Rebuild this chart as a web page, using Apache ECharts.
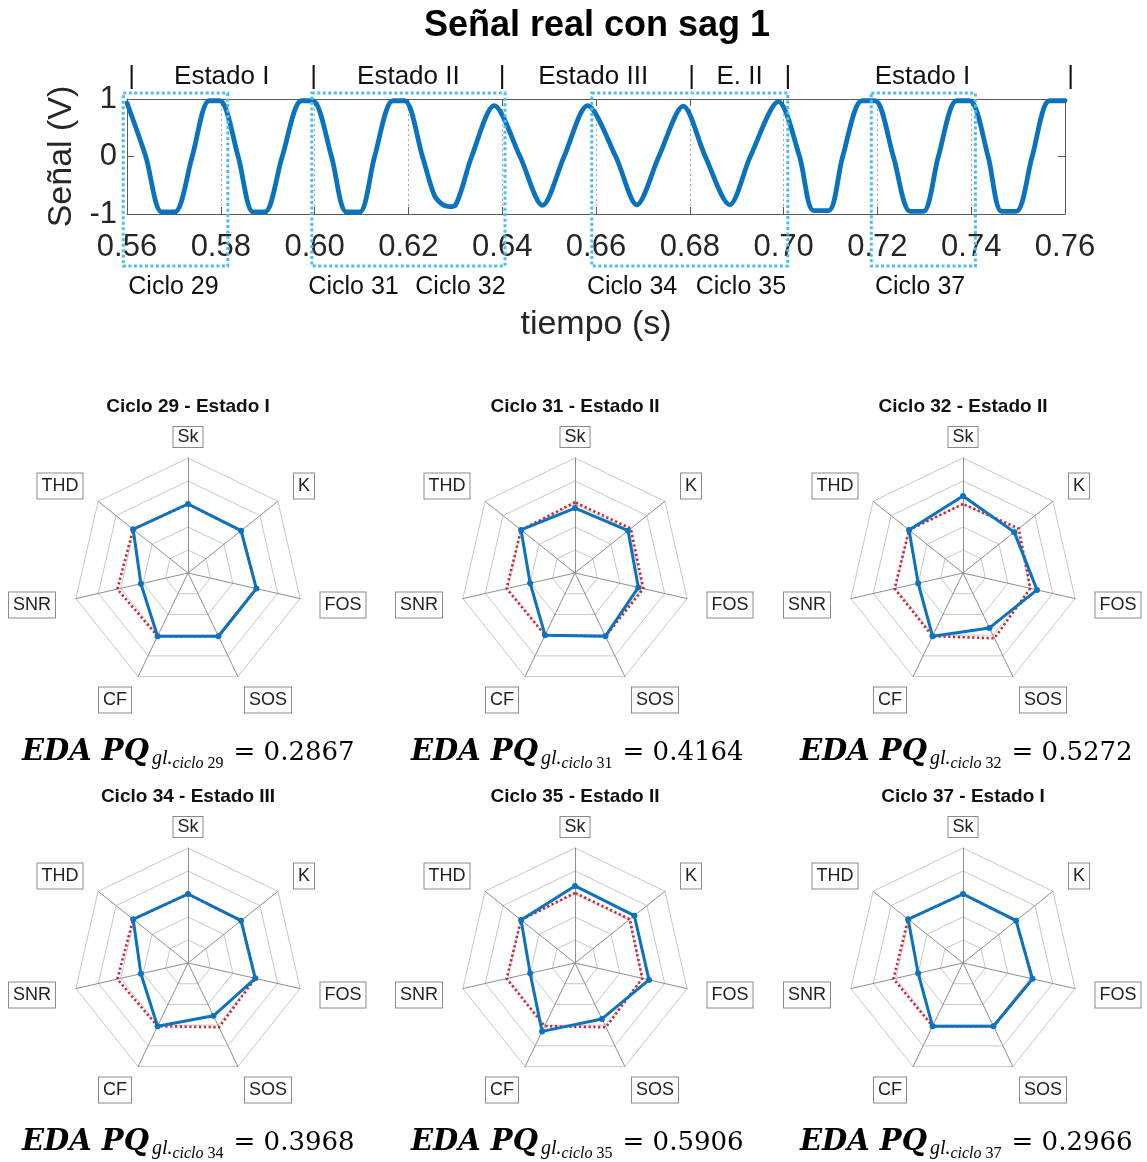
<!DOCTYPE html>
<html><head><meta charset="utf-8">
<script src="https://cdn.jsdelivr.net/npm/echarts@6/dist/echarts.min.js"></script>
<style>html,body{margin:0;padding:0;background:#fff}#c{width:1147px;height:1162px}</style>
</head><body><div id="c"></div>
<script>
// ---------- top chart data ----------
const sigT = [0.5600,0.5640,0.5674,0.5702,0.5739,0.5775,0.5798,0.5837,0.5869,0.5894,0.5931,0.5972,0.5996,0.6036,0.6068,0.6096,0.6128,0.6167,0.6192,0.6230,0.6255,0.6272,0.6287,0.6300,0.6335,0.6383,0.6438,0.6486,0.6532,0.6582,0.6642,0.6687,0.6734,0.6786,0.6833,0.6885,0.6929,0.6989,0.7034,0.7064,0.7096,0.7126,0.7167,0.7195,0.7234,0.7270,0.7298,0.7330,0.7369,0.7397,0.7436,0.7465,0.7496,0.7530,0.7567,0.7600];
const sigV = [0.93,0.00,-0.965,-0.965,0.00,0.97,0.97,0.00,-0.965,-0.965,0.00,0.97,0.97,0.00,-0.965,-0.965,0.00,0.97,0.97,0.00,-0.67,-0.83,-0.87,-0.85,0.00,0.885,0.00,-0.85,0.00,0.885,0.00,-0.84,0.00,0.875,0.00,-0.84,0.00,0.955,0.00,-0.94,-0.94,0.00,0.97,0.97,0.00,-0.955,-0.955,0.00,0.97,0.97,0.00,-0.955,-0.955,0.00,0.97,0.97];
const yTicks = [-1, 0, 1];
const stateSepT = [0.5610, 0.5998, 0.6400, 0.6804, 0.7009, 0.7612];
const stateLabels = ['Estado I', 'Estado II', 'Estado III', 'E. II', 'Estado I'];
const stateLabelT = [0.5802, 0.6200, 0.6594, 0.6906, 0.7296];
const cycleLabels = ['Ciclo 29', 'Ciclo 31', 'Ciclo 32', 'Ciclo 34', 'Ciclo 35', 'Ciclo 37'];
const cycleLabelT = [0.5699, 0.6083, 0.6311, 0.6677, 0.6909, 0.7291];
const boxStartT = [0.5592, 0.5994, 0.6591, 0.7187];
const boxEndT = [0.5815, 0.6406, 0.7009, 0.7409];

// ---------- radar data (clockwise from top) ----------
const axisNames = ['Sk', 'K', 'FOS', 'SOS', 'CF', 'SNR', 'THD'];
const cycleNums = ['29', '31', '32', '34', '35', '37'];
const cycleStates = ['Estado I', 'Estado II', 'Estado II', 'Estado III', 'Estado II', 'Estado I'];
const edaValues = ['0.2867', '0.4164', '0.5272', '0.3968', '0.5906', '0.2966'];
const blueC29 = [0.60, 0.59, 0.61, 0.61, 0.61, 0.42, 0.61];
const redC29  = [0.60, 0.59, 0.61, 0.61, 0.61, 0.63, 0.61];
const blueC31 = [0.565, 0.59, 0.565, 0.61, 0.60, 0.40, 0.60];
const redC31  = [0.615, 0.62, 0.61, 0.61, 0.60, 0.61, 0.60];
const blueC32 = [0.67, 0.57, 0.66, 0.53, 0.61, 0.40, 0.60];
const redC32  = [0.60, 0.62, 0.60, 0.63, 0.61, 0.61, 0.60];
const blueC34 = [0.60, 0.59, 0.60, 0.51, 0.61, 0.42, 0.61];
const redC34  = [0.60, 0.59, 0.60, 0.62, 0.61, 0.63, 0.61];
const blueC35 = [0.67, 0.66, 0.66, 0.54, 0.66, 0.40, 0.60];
const redC35  = [0.61, 0.61, 0.60, 0.62, 0.61, 0.61, 0.60];
const blueC37 = [0.60, 0.59, 0.62, 0.61, 0.61, 0.40, 0.61];
const redC37  = [0.60, 0.59, 0.62, 0.61, 0.61, 0.62, 0.61];

const blueSets = [blueC29, blueC31, blueC32, blueC34, blueC35, blueC37];
const redSets = [redC29, redC31, redC32, redC34, redC35, redC37];

// ---------- layout ----------
const SANS = '"Liberation Sans", Arial, Helvetica, sans-serif';
const TXT = '#262626';
const BLUE = '#0B72BE';
const RED = '#CC2233';
const LBLUE = '#4DBEEE';
const colX = [188, 575, 963];
const rowY = [573, 963];
const titleY = [407, 797];
const formulaX = [22, 411, 800];
const formulaBase = [761, 1151];
// axis-name box placement relative to each radar centre (same order as axisNames)
const nameDX = [0, 116, 155, 80, -73, -156, -128];
const nameDY = [-136, -87, 32, 127, 127, 32, -87];

// ECharts lays radar indicators counter-clockwise, so reorder
const ccw = [0, 6, 5, 4, 3, 2, 1];
const reorder = a => ccw.map(i => a[i]);

const chart = echarts.init(document.getElementById('c'), null, {renderer: 'canvas'});

const radars = [];
const series = [{
  type: 'line', xAxisIndex: 0, yAxisIndex: 0,
  data: sigT.map((t, i) => [t, sigV[i]]),
  showSymbol: false, smooth: 0.3,
  lineStyle: {color: BLUE, width: 4.8, cap: 'round', join: 'round'},
  itemStyle: {color: BLUE}, silent: true
}];

for (let i = 0; i < 6; i++) {
  const col = i % 3, row = Math.floor(i / 3);
  radars.push({
    center: [colX[col], rowY[row]], radius: 115, startAngle: 90,
    splitNumber: 5, shape: 'polygon',
    indicator: reorder(axisNames).map(n => ({name: n, min: 0, max: 1})),
    axisName: {show: false},
    axisLine: {lineStyle: {color: '#8f8f8f', width: 1}},
    splitLine: {lineStyle: {color: '#c8c8c8', width: 1}},
    splitArea: {show: false},
    axisTick: {show: false}, axisLabel: {show: false}
  });
  series.push({
    type: 'radar', radarIndex: i, silent: true, symbol: 'none', z: 2,
    lineStyle: {color: RED, width: 2.6, type: [2.2, 2.6]},
    data: [{value: reorder(redSets[i])}]
  });
  series.push({
    type: 'radar', radarIndex: i, silent: true, symbol: 'circle', symbolSize: 6, z: 3,
    lineStyle: {color: BLUE, width: 3},
    itemStyle: {color: BLUE},
    data: [{value: reorder(blueSets[i])}]
  });
}

const axisCol = '#5a5a5a';
chart.setOption({
  animation: false,
  backgroundColor: '#fff',
  grid: {left: 127, right: 82, top: 99, height: 115, containLabel: false},
  xAxis: [{
    type: 'value', min: 0.56, max: 0.76, interval: 0.02, position: 'bottom',
    name: 'tiempo (s)', nameLocation: 'middle', nameGap: 94,
    nameTextStyle: {fontSize: 34, color: TXT, fontFamily: SANS},
    axisLine: {show: true, onZero: false, lineStyle: {color: axisCol, width: 1}},
    axisTick: {show: true, inside: true, length: 7, lineStyle: {color: axisCol}},
    axisLabel: {fontSize: 31, color: TXT, fontFamily: SANS, margin: 18, showMinLabel: true, showMaxLabel: true,
                formatter: v => v.toFixed(2)},
    splitLine: {show: true, lineStyle: {color: '#a8a8a8', width: 1, type: [2, 3]}}
  }, {
    type: 'value', min: 0.56, max: 0.76, interval: 0.02, position: 'top',
    axisLine: {show: true, onZero: false, lineStyle: {color: axisCol, width: 1}},
    axisTick: {show: true, inside: true, length: 7, lineStyle: {color: axisCol}},
    axisLabel: {show: false}, splitLine: {show: false}
  }],
  yAxis: [{
    type: 'value', min: yTicks[0], max: yTicks[yTicks.length - 1], interval: 1, position: 'left',
    name: 'Señal (V)', nameLocation: 'middle', nameGap: 47, nameRotate: 90,
    nameTextStyle: {fontSize: 34, color: TXT, fontFamily: SANS},
    axisLine: {show: true, onZero: false, lineStyle: {color: axisCol, width: 1}},
    axisTick: {show: true, inside: true, length: 7, lineStyle: {color: axisCol}},
    axisLabel: {fontSize: 31, color: TXT, fontFamily: SANS, margin: 10},
    splitLine: {show: false}
  }, {
    type: 'value', min: yTicks[0], max: yTicks[yTicks.length - 1], interval: 1, position: 'right',
    axisLine: {show: true, onZero: false, lineStyle: {color: axisCol, width: 1}},
    axisTick: {show: true, inside: true, length: 7, lineStyle: {color: axisCol}},
    axisLabel: {show: false}, splitLine: {show: false}
  }],
  radar: radars,
  series: series
});

// ---------- annotations positioned through the chart's scales ----------
const px = (t, v) => chart.convertToPixel({gridIndex: 0}, [t, v]);
const mctx = document.createElement('canvas').getContext('2d');
const tw = (font, text) => { mctx.font = font; return mctx.measureText(text).width; };
const g = [];

const topY = px(0.56, 1)[1], botY = px(0.56, -1)[1];
g.push({type: 'text', x: 597, y: 26, z: 100,
  style: {text: 'Señal real con sag 1', font: 'bold 36px ' + SANS, fill: '#000', align: 'center', verticalAlign: 'middle'}});

stateSepT.forEach(t => g.push({type: 'text', x: px(t, 0)[0], y: 77, z: 100,
  style: {text: '|', font: '26px ' + SANS, fill: '#111', align: 'center', verticalAlign: 'middle'}}));
stateLabels.forEach((s, i) => g.push({type: 'text', x: px(stateLabelT[i], 0)[0], y: 77, z: 100,
  style: {text: s, font: '26px ' + SANS, fill: '#111', align: 'center', verticalAlign: 'middle'}}));
cycleLabels.forEach((s, i) => g.push({type: 'text', x: px(cycleLabelT[i], 0)[0], y: 287, z: 100,
  style: {text: s, font: '25px ' + SANS, fill: '#111', align: 'center', verticalAlign: 'middle'}}));
boxStartT.forEach((t, i) => {
  const x0 = px(t, 0)[0], x1 = px(boxEndT[i], 0)[0];
  g.push({type: 'rect', z: 90, silent: true,
    shape: {x: x0, y: topY - 6, width: x1 - x0, height: (botY + 52) - (topY - 6)},
    style: {fill: 'none', stroke: LBLUE, lineWidth: 3, lineDash: [3, 2.5]}});
});

// radar titles, axis-name boxes and EDA formulas
for (let i = 0; i < 6; i++) {
  const col = i % 3, row = Math.floor(i / 3);
  const cx = colX[col], cy = rowY[row];
  g.push({type: 'text', x: cx, y: titleY[row], z: 100,
    style: {text: 'Ciclo ' + cycleNums[i] + ' - ' + cycleStates[i], font: 'bold 19px ' + SANS, fill: '#111',
            align: 'center', verticalAlign: 'middle'}});
  axisNames.forEach((n, k) => {
    g.push({type: 'text', x: cx + nameDX[k], y: cy + nameDY[k], z: 100,
      style: {text: n, font: '18px ' + SANS, fill: '#222', align: 'center', verticalAlign: 'middle',
              backgroundColor: '#fff', borderColor: '#8a8a8a', borderWidth: 1,
              padding: k === 0 ? [1, 4, 1, 4] : [4, 4, 3, 4]}});
  });
  const base = formulaBase[row];
  let x = formulaX[col];
  const fMain = 'italic bold 29px "DejaVu Serif"';
  const fGl = 'italic 20px "Liberation Serif"';
  const fCic = 'italic 16px "Liberation Serif"';
  const fNum = '16px "Liberation Serif"';
  const fEq = '26px "DejaVu Serif"';
  const part = (text, font, size, dy) => {
    g.push({type: 'text', x: x, y: base + dy - 0.3 * size, z: 100,
      style: {text: text, font: font, fill: '#000', align: 'left', verticalAlign: 'middle'}});
    x += tw(font, text);
  };
  part('EDA PQ', fMain, 29, 0); x += 3;
  part('gl.', fGl, 20, 4);
  part('ciclo ', fCic, 16, 8);
  part(cycleNums[i], fNum, 16, 8); x += 10;
  part('= ' + edaValues[i], fEq, 26, 0);
}
chart.setOption({graphic: g});
</script>
</body></html>
